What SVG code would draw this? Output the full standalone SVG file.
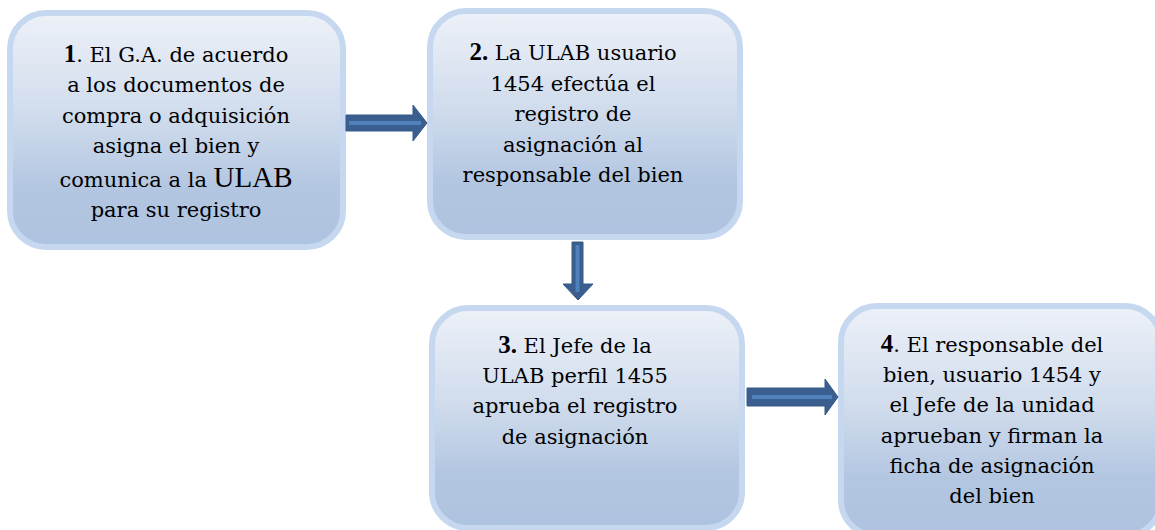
<svg xmlns="http://www.w3.org/2000/svg" width="1155" height="530" viewBox="0 0 1155 530">
<defs>
<linearGradient id="g" x1="0" y1="0" x2="0" y2="1">
<stop offset="0" stop-color="#edf1f8"/>
<stop offset="0.45" stop-color="#cfdbec"/>
<stop offset="0.75" stop-color="#b3c6e1"/>
<stop offset="1" stop-color="#aec3df"/>
</linearGradient>
<style>
.box{fill:url(#g);stroke:#c6d8ef;stroke-width:6}
text, tspan{font-family:"DejaVu Serif",serif;font-size:21px;fill:#000;text-anchor:middle}
.b{font-family:"Liberation Serif","DejaVu Serif",serif;font-weight:bold;font-size:25px}
.u{font-family:"Liberation Serif","DejaVu Serif",serif;font-size:29px}
.arr{fill:#3a5e8e;stroke:#365a88;stroke-width:1}
.hl{fill:none;stroke:#4f81bd;stroke-width:4}
</style>
</defs>
<rect width="1155" height="530" fill="#fff"/>
<g id="node1">
<rect class="box" x="10" y="13" width="333" height="234" rx="36"/>
<text><tspan x="176" y="62"><tspan class="b">1</tspan>. El G.A. de acuerdo</tspan><tspan x="176" y="92">a los documentos de</tspan><tspan x="176" y="123">compra o adquisición</tspan><tspan x="176" y="153">asigna el bien y</tspan><tspan x="176" y="187">comunica a la <tspan class="u">ULAB</tspan></tspan><tspan x="176" y="217">para su registro</tspan></text>
</g>
<g id="node2">
<rect class="box" x="430" y="11" width="310" height="226" rx="36"/>
<text><tspan x="573" y="60"><tspan class="b">2.</tspan> La ULAB usuario</tspan><tspan x="573" y="91">1454 efectúa el</tspan><tspan x="573" y="121">registro de</tspan><tspan x="573" y="152">asignación al</tspan><tspan x="573" y="182">responsable del bien</tspan></text>
</g>
<g id="node3">
<rect class="box" x="432" y="308" width="310" height="220" rx="36"/>
<text><tspan x="575" y="353"><tspan class="b">3.</tspan> El Jefe de la</tspan><tspan x="575" y="383">ULAB perfil 1455</tspan><tspan x="575" y="413">aprueba el registro</tspan><tspan x="575" y="444">de asignación</tspan></text>
</g>
<g id="node4">
<rect class="box" x="841" y="306" width="320" height="230" rx="36"/>
<text><tspan x="992" y="352"><tspan class="b">4</tspan>. El responsable del</tspan><tspan x="992" y="382">bien, usuario 1454 y</tspan><tspan x="992" y="412">el Jefe de la unidad</tspan><tspan x="992" y="443">aprueban y firman la</tspan><tspan x="992" y="473">ficha de asignación</tspan><tspan x="992" y="503">del bien</tspan></text>
</g>
<g id="connectors">
<path class="arr" d="M346,115 H413 V105 L427,123 L413,141 V131 H346 Z"/>
<path class="hl" d="M349,123 H421"/>
<path class="arr" d="M572,242 H583 V284 H593 L578,300 L563,284 H572 Z"/>
<path class="hl" d="M577.5,245 V292"/>
<path class="arr" d="M747,388 H825 V379 L838,397 L825,415 V406 H747 Z"/>
<path class="hl" d="M752,397 H832"/>
</g>
</svg>
